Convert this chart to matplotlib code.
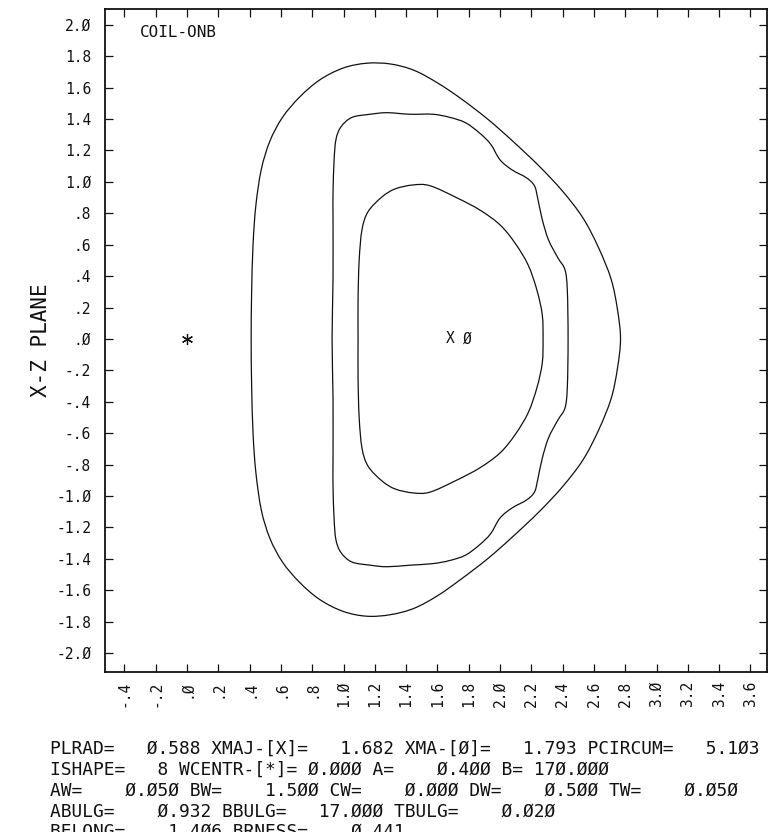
import numpy as np
import matplotlib
matplotlib.use("Agg")
import matplotlib.pyplot as plt
from matplotlib.ticker import FixedLocator, FuncFormatter
from matplotlib.path import Path
from matplotlib.patches import PathPatch

# ---- data ----
outer_x = [0.41, 0.413, 0.422, 0.44, 0.475, 0.53, 0.61, 0.72, 0.85, 1.0, 1.15, 1.30, 1.45, 1.60, 1.75, 1.92, 2.08, 2.25, 2.40, 2.53, 2.63, 2.71, 2.75, 2.77,
           2.75, 2.71, 2.63, 2.53, 2.40, 2.25, 2.08, 1.92, 1.75, 1.60, 1.45, 1.30, 1.15, 1.0, 0.85, 0.72, 0.61, 0.53, 0.475, 0.44, 0.422, 0.413]
outer_z = [0.0, 0.3, 0.6, 0.85, 1.08, 1.26, 1.41, 1.54, 1.65, 1.725, 1.755, 1.75, 1.71, 1.63, 1.53, 1.40, 1.26, 1.10, 0.94, 0.77, 0.58, 0.38, 0.19, 0.0,
           -0.19, -0.38, -0.58, -0.77, -0.94, -1.10, -1.26, -1.40, -1.53, -1.635, -1.715, -1.755, -1.765, -1.735, -1.66, -1.55, -1.42, -1.27, -1.09, -0.85, -0.6, -0.3]

middle_x = [0.927, 0.933, 0.933, 0.933, 0.94, 0.952, 0.984, 1.054, 1.17, 1.278, 1.425, 1.572, 1.68, 1.78, 1.87, 1.94, 2.0, 2.077, 2.17, 2.22, 2.24, 2.27, 2.31, 2.37, 2.415, 2.43, 2.435,
            2.43, 2.415, 2.37, 2.31, 2.27, 2.24, 2.22, 2.17, 2.077, 2.0, 1.94, 1.87, 1.78, 1.68, 1.572, 1.425, 1.278, 1.17, 1.054, 0.984, 0.952, 0.94, 0.933, 0.933, 0.933]
middle_z = [0.0, 0.376, 0.758, 0.93, 1.14, 1.27, 1.35, 1.41, 1.43, 1.44, 1.43, 1.43, 1.41, 1.376, 1.31, 1.24, 1.14, 1.076, 1.025, 0.975, 0.90, 0.76, 0.63, 0.516, 0.44, 0.31, 0.0,
            -0.31, -0.44, -0.516, -0.63, -0.76, -0.90, -0.975, -1.025, -1.076, -1.14, -1.24, -1.31, -1.376, -1.41, -1.43, -1.44, -1.45, -1.44, -1.42, -1.36, -1.28, -1.15, -0.94, -0.76, -0.376]

inner_x = [1.093, 1.093, 1.10, 1.118, 1.157, 1.246, 1.33, 1.444, 1.553, 1.725, 1.872, 2.0, 2.096, 2.18, 2.236, 2.27, 2.275,
           2.27, 2.236, 2.18, 2.096, 2.0, 1.872, 1.725, 1.553, 1.444, 1.33, 1.246, 1.157, 1.118, 1.10, 1.093]
inner_z = [0.0, 0.25, 0.50, 0.694, 0.81, 0.904, 0.955, 0.98, 0.975, 0.898, 0.82, 0.726, 0.61, 0.47, 0.31, 0.153, 0.0,
           -0.153, -0.31, -0.47, -0.61, -0.726, -0.82, -0.898, -0.975, -0.98, -0.955, -0.904, -0.81, -0.694, -0.50, -0.25]

wcentr = (0.0, 0.0)
xmaj = 1.682
xma = 1.793

x_ticks = [-0.4, -0.2, 0.0, 0.2, 0.4, 0.6, 0.8, 1.0, 1.2, 1.4, 1.6, 1.8, 2.0, 2.2, 2.4, 2.6, 2.8, 3.0, 3.2, 3.4, 3.6]
y_ticks = [-2.0, -1.8, -1.6, -1.4, -1.2, -1.0, -0.8, -0.6, -0.4, -0.2, 0.0, 0.2, 0.4, 0.6, 0.8, 1.0, 1.2, 1.4, 1.6, 1.8, 2.0]

title_text = "COIL-ONB"
ylabel_text = "X-Z PLANE"
info_lines = [
    "PLRAD=   \u00d8.588 XMAJ-[X]=   1.682 XMA-[\u00d8]=   1.793 PCIRCUM=   5.1\u00d83",
    "ISHAPE=   8 WCENTR-[*]= \u00d8.\u00d8\u00d8\u00d8 A=    \u00d8.4\u00d8\u00d8 B= 17\u00d8.\u00d8\u00d8\u00d8",
    "AW=    \u00d8.\u00d85\u00d8 BW=    1.5\u00d8\u00d8 CW=    \u00d8.\u00d8\u00d8\u00d8 DW=    \u00d8.5\u00d8\u00d8 TW=    \u00d8.\u00d85\u00d8",
    "ABULG=    \u00d8.932 BBULG=   17.\u00d8\u00d8\u00d8 TBULG=    \u00d8.\u00d82\u00d8",
    "BELONG=    1.4\u00d86 BRNESS=    \u00d8.441",
]

# ---- figure ----
W, H = 769, 832
fig = plt.figure(figsize=(W / 100, H / 100), dpi=100)
ax = fig.add_axes([105 / W, 1 - 672 / H, 662 / W, 663 / H])

mono = "DejaVu Sans Mono"
lc = "#111111"


def smooth_closed_path(xs, zs):
    p = np.column_stack([xs, zs])
    n = len(p)
    verts = [p[0]]
    codes = [Path.MOVETO]
    for i in range(n):
        p0, p1, p2, p3 = p[(i - 1) % n], p[i], p[(i + 1) % n], p[(i + 2) % n]
        verts += [p1 + (p2 - p0) / 6.0, p2 - (p3 - p1) / 6.0, p2]
        codes += [Path.CURVE4] * 3
    return Path(verts, codes)


for xs, zs in ((outer_x, outer_z), (middle_x, middle_z), (inner_x, inner_z)):
    ax.add_patch(PathPatch(smooth_closed_path(xs, zs), fill=False, edgecolor=lc, lw=0.9))

ax.plot([wcentr[0]], [wcentr[1]], marker=(6, 2, 0), ms=8, mew=0.9, color=lc, ls="none")
ax.text(xmaj, 0.0, "X", ha="center", va="center", fontsize=10.5, family=mono, color=lc)
ax.text(xma, 0.0, "\u00d8", ha="center", va="center", fontsize=10.5, family=mono, color=lc)

ax.set_xlim(-0.524, 3.706)
ax.set_ylim(-2.12, 2.10)


def fmt(v, pos=None):
    s = "%.1f" % v
    if s.startswith("0."):
        s = s[1:]
    elif s.startswith("-0."):
        s = "-" + s[2:]
    return s.replace("0", "\u00d8")


ax.xaxis.set_major_locator(FixedLocator(x_ticks))
ax.yaxis.set_major_locator(FixedLocator(y_ticks))
ax.xaxis.set_major_formatter(FuncFormatter(fmt))
ax.yaxis.set_major_formatter(FuncFormatter(fmt))
ax.tick_params(direction="in", length=6, width=0.9, top=True, right=True, color=lc,
               labelsize=10.5, labelcolor=lc)
ax.tick_params(axis="x", labelrotation=90, pad=6)
ax.tick_params(axis="y", pad=10)
for lab in ax.get_xticklabels() + ax.get_yticklabels():
    lab.set_family(mono)
for sp in ax.spines.values():
    sp.set_linewidth(1.3)
    sp.set_color(lc)

ax.set_ylabel(ylabel_text, family=mono, fontsize=15, color=lc, labelpad=4)
ax.text(0.053, 0.964, title_text, transform=ax.transAxes, ha="left", va="center",
        fontsize=11.5, family=mono, color=lc)

for i, line in enumerate(info_lines):
    fig.text(50 / W, 1 - (748.5 + 20.9 * i) / H, line, ha="left", va="center",
             fontsize=12.85, family=mono, color=lc)

fig.savefig("out.png", dpi=100)
